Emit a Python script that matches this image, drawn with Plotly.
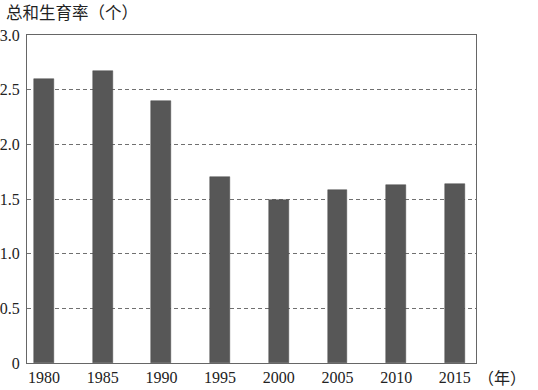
import plotly.graph_objects as go

years = [1980, 1985, 1990, 1995, 2000, 2005, 2010, 2015]
tfr = [2.60, 2.67, 2.40, 1.70, 1.49, 1.58, 1.63, 1.64]
year_labels = [str(y) for y in years]
y_ticks = [0, 0.5, 1.0, 1.5, 2.0, 2.5, 3.0]
y_tick_labels = ["0", "0.5", "1.0", "1.5", "2.0", "2.5", "3.0"]
y_title = "总和生育率（个）"
x_unit = "（年）"

serif = "Liberation Serif"
cjk = "Noto Sans CJK SC"

fig = go.Figure()
fig.add_trace(go.Bar(
    x=years, y=tfr, width=1.7,
    marker=dict(color="#575757", line=dict(color="#4a4a4a", width=0.5)),
    showlegend=False,
))

fig.update_layout(
    width=538, height=390,
    margin=dict(l=27, r=62, t=35, b=27, autoexpand=False),
    paper_bgcolor="white", plot_bgcolor="white",
    bargap=0,
    xaxis=dict(
        type="linear", range=[1980 - 1.45, 2015 + 1.8],
        tickvals=years, ticktext=year_labels,
        showgrid=False, zeroline=False, ticks="",
        showline=True, linecolor="#666666", linewidth=1.2, mirror=True,
        tickfont=dict(family=serif, size=16, color="#222222"),
        automargin=False,
    ),
    yaxis=dict(
        range=[0, 3.0], tickvals=y_ticks, ticktext=y_tick_labels,
        showgrid=True, gridcolor="#707070", griddash="4px,3px", gridwidth=1,
        zeroline=False, ticks="",
        showline=True, linecolor="#666666", linewidth=1.2, mirror=True,
        tickfont=dict(family=serif, size=16, color="#222222"),
        ticklabelstandoff=3,
        automargin=False,
    ),
    annotations=[
        dict(text=y_title, xref="paper", yref="paper", x=-23/449, y=1 + 23/328,
             xanchor="left", yanchor="middle", showarrow=False,
             font=dict(family=cjk, size=16.5, color="#222222")),
        dict(text=x_unit, xref="paper", yref="paper", x=1.0, y=-14/328,
             xanchor="left", yanchor="middle", showarrow=False,
             font=dict(family=cjk, size=16, color="#222222")),
    ],
)

fig.write_html("out.html", config={"displayModeBar": False},
               post_script="document.body.style.margin='0';")
